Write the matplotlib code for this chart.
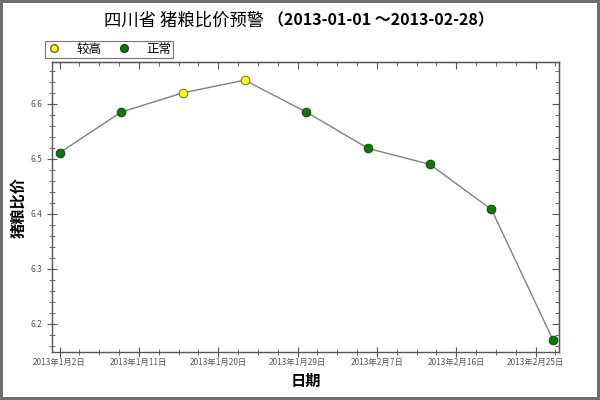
import datetime as dt

import matplotlib
matplotlib.use("Agg")
from matplotlib import pyplot as plt
import matplotlib.dates as mdates
from matplotlib.ticker import MultipleLocator, AutoMinorLocator, FixedLocator, FuncFormatter
from matplotlib.lines import Line2D

plt.rcParams['font.family'] = ['Noto Sans CJK SC', 'DejaVu Sans']

# weekly observations
dates = [dt.date(2013, 1, 2), dt.date(2013, 1, 9), dt.date(2013, 1, 16),
         dt.date(2013, 1, 23), dt.date(2013, 1, 30), dt.date(2013, 2, 6),
         dt.date(2013, 2, 13), dt.date(2013, 2, 20), dt.date(2013, 2, 27)]
ratios = [6.511, 6.585, 6.620, 6.643, 6.585, 6.519, 6.490, 6.408, 6.170]
levels = ['正常', '正常', '较高', '较高', '正常', '正常', '正常', '正常', '正常']

tick_dates = [dt.date(2013, 1, 2), dt.date(2013, 1, 11), dt.date(2013, 1, 20),
              dt.date(2013, 1, 29), dt.date(2013, 2, 7), dt.date(2013, 2, 16),
              dt.date(2013, 2, 25)]

level_colors = {'较高': '#ffff1a', '正常': '#0b7a0b'}
level_edges = {'较高': '#6b6b2a', '正常': '#0a4a0a'}


def date_label(v, pos):
    d = mdates.num2date(v)
    return f'{d.year}年{d.month}月{d.day}日'


fig = plt.figure(figsize=(6, 4), dpi=100)
fig.patch.set_edgecolor('#6e6e6e')
fig.patch.set_linewidth(3)
ax = fig.add_axes([0.087, 0.12, 0.845, 0.725])

x = mdates.date2num(dates)
ax.plot(x, ratios, color='#808080', linewidth=1, zorder=2)
for xi, yi, lv in zip(x, ratios, levels):
    ax.plot(xi, yi, 'o', markersize=6.2, markerfacecolor=level_colors[lv],
            markeredgecolor=level_edges[lv], markeredgewidth=0.7, zorder=3)

ax.set_xlim(x[0] - 0.83, x[-1] + 0.68)
ax.set_ylim(6.149, 6.676)

ax.xaxis.set_major_locator(FixedLocator(mdates.date2num(tick_dates)))
ax.xaxis.set_minor_locator(AutoMinorLocator(4))
ax.xaxis.set_major_formatter(FuncFormatter(date_label))
ax.yaxis.set_major_locator(MultipleLocator(0.1))
ax.yaxis.set_minor_locator(AutoMinorLocator(5))
ax.yaxis.set_major_formatter(FuncFormatter(lambda v, p: '{:.1f}'.format(v)))

for s in ax.spines.values():
    s.set_color('#555555')
    s.set_linewidth(1)

ax.tick_params(axis='both', which='both', colors='#555555', labelcolor='#555555', labelsize=6)
ax.tick_params(axis='both', which='major', direction='inout', length=7, width=0.8)
ax.tick_params(axis='both', which='minor', direction='inout', length=4, width=0.6)
ax.tick_params(axis='x', which='major', pad=1)

# inward ticks on top and right
sec_x = ax.secondary_xaxis('top')
sec_x.xaxis.set_major_locator(FixedLocator(mdates.date2num(tick_dates)))
sec_x.xaxis.set_minor_locator(AutoMinorLocator(4))
sec_x.tick_params(which='major', direction='in', length=5, width=0.8, colors='#555555', labeltop=False)
sec_x.tick_params(which='minor', direction='in', length=3, width=0.6, colors='#555555')
sec_y = ax.secondary_yaxis('right')
sec_y.yaxis.set_major_locator(MultipleLocator(0.1))
sec_y.yaxis.set_minor_locator(AutoMinorLocator(5))
sec_y.tick_params(which='major', direction='in', length=5, width=0.8, colors='#555555', labelright=False)
sec_y.tick_params(which='minor', direction='in', length=3, width=0.6, colors='#555555')

ax.set_xlabel('日期', fontsize=11, fontweight='bold', labelpad=4)
ax.set_ylabel('猪粮比价', fontsize=11, fontweight='bold', labelpad=3)

fig.text(0.44, 0.948, '四川省 猪粮比价预警', ha='right', va='center', fontsize=12.5)
fig.text(0.446, 0.948, '（2013-01-01 ～2013-02-28）', ha='left', va='center',
         fontsize=11.5, fontweight='bold')

handles = [Line2D([], [], linestyle='none', marker='o', markersize=5.5,
                  markerfacecolor=level_colors[k], markeredgecolor=level_edges[k])
           for k in ('较高', '正常')]
leg = ax.legend(handles, ['较高', '正常'], ncol=2, loc='lower left',
                bbox_to_anchor=(-0.015, 1.015), fancybox=False, edgecolor='#555555',
                fontsize=9, handletextpad=1.2, columnspacing=1.2, borderpad=0.15,
                handlelength=1.2, borderaxespad=0)
leg.get_frame().set_linewidth(0.8)

fig.savefig('out.png', dpi=100)
